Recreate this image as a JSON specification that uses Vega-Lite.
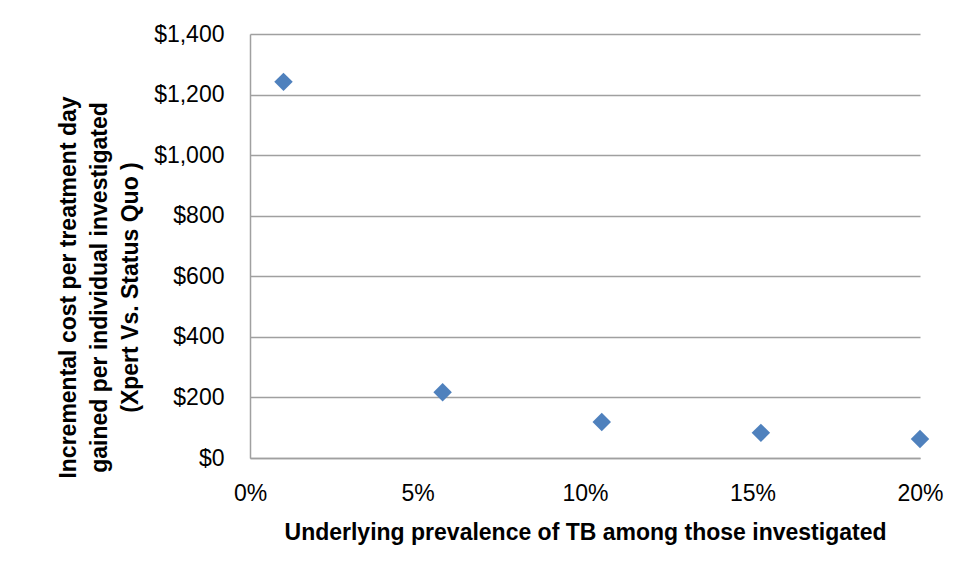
{
  "$schema": "https://vega.github.io/schema/vega-lite/v6.json",
  "width": 670,
  "height": 424,
  "autosize": {"type": "none"},
  "padding": {"left": 250, "top": 34, "right": 54, "bottom": 120},
  "background": "white",
  "config": {"view": {"stroke": null}, "font": "Liberation Sans"},
  "data": {
    "values": [
      {"prevalence": 0.01, "cost": 1242},
      {"prevalence": 0.0575, "cost": 217},
      {"prevalence": 0.105, "cost": 119},
      {"prevalence": 0.1525, "cost": 83},
      {"prevalence": 0.2, "cost": 63}
    ]
  },
  "mark": {"type": "point", "shape": "diamond", "filled": true, "size": 340, "color": "#4F81BD", "opacity": 1},
  "encoding": {
    "x": {
      "field": "prevalence",
      "type": "quantitative",
      "scale": {"domain": [0, 0.2], "nice": false, "zero": false},
      "axis": {
        "values": [0, 0.05, 0.1, 0.15, 0.2],
        "format": ".0%",
        "grid": false,
        "ticks": false,
        "domainColor": "#A0A0A0",
        "domainWidth": 1.5,
        "labelFontSize": 23,
        "labelColor": "#000000",
        "labelPadding": 24,
        "labelFlush": false,
        "title": "Underlying prevalence of TB among those investigated",
        "titleFontSize": 23,
        "titleFontWeight": "bold",
        "titleColor": "#000000",
        "titleY": 74,
        "titleBaseline": "middle"
      }
    },
    "y": {
      "field": "cost",
      "type": "quantitative",
      "scale": {"domain": [0, 1400], "nice": false},
      "axis": {
        "values": [0, 200, 400, 600, 800, 1000, 1200, 1400],
        "format": "$,.0f",
        "grid": true,
        "gridColor": "#A0A0A0",
        "gridWidth": 1.5,
        "ticks": false,
        "domainColor": "#A0A0A0",
        "domainWidth": 1.5,
        "labelFontSize": 23,
        "labelColor": "#000000",
        "labelPadding": 26,
        "labelFlush": false,
        "title": ["Incremental cost per treatment day", "gained per individual investigated", "(Xpert Vs. Status Quo )"],
        "titleFontSize": 23,
        "titleFontWeight": "bold",
        "titleColor": "#000000",
        "titleLineHeight": 31,
        "titleX": -182,
        "titleY": 253,
        "titleAngle": -90,
        "titleAlign": "center",
        "titleBaseline": "middle"
      }
    }
  }
}
